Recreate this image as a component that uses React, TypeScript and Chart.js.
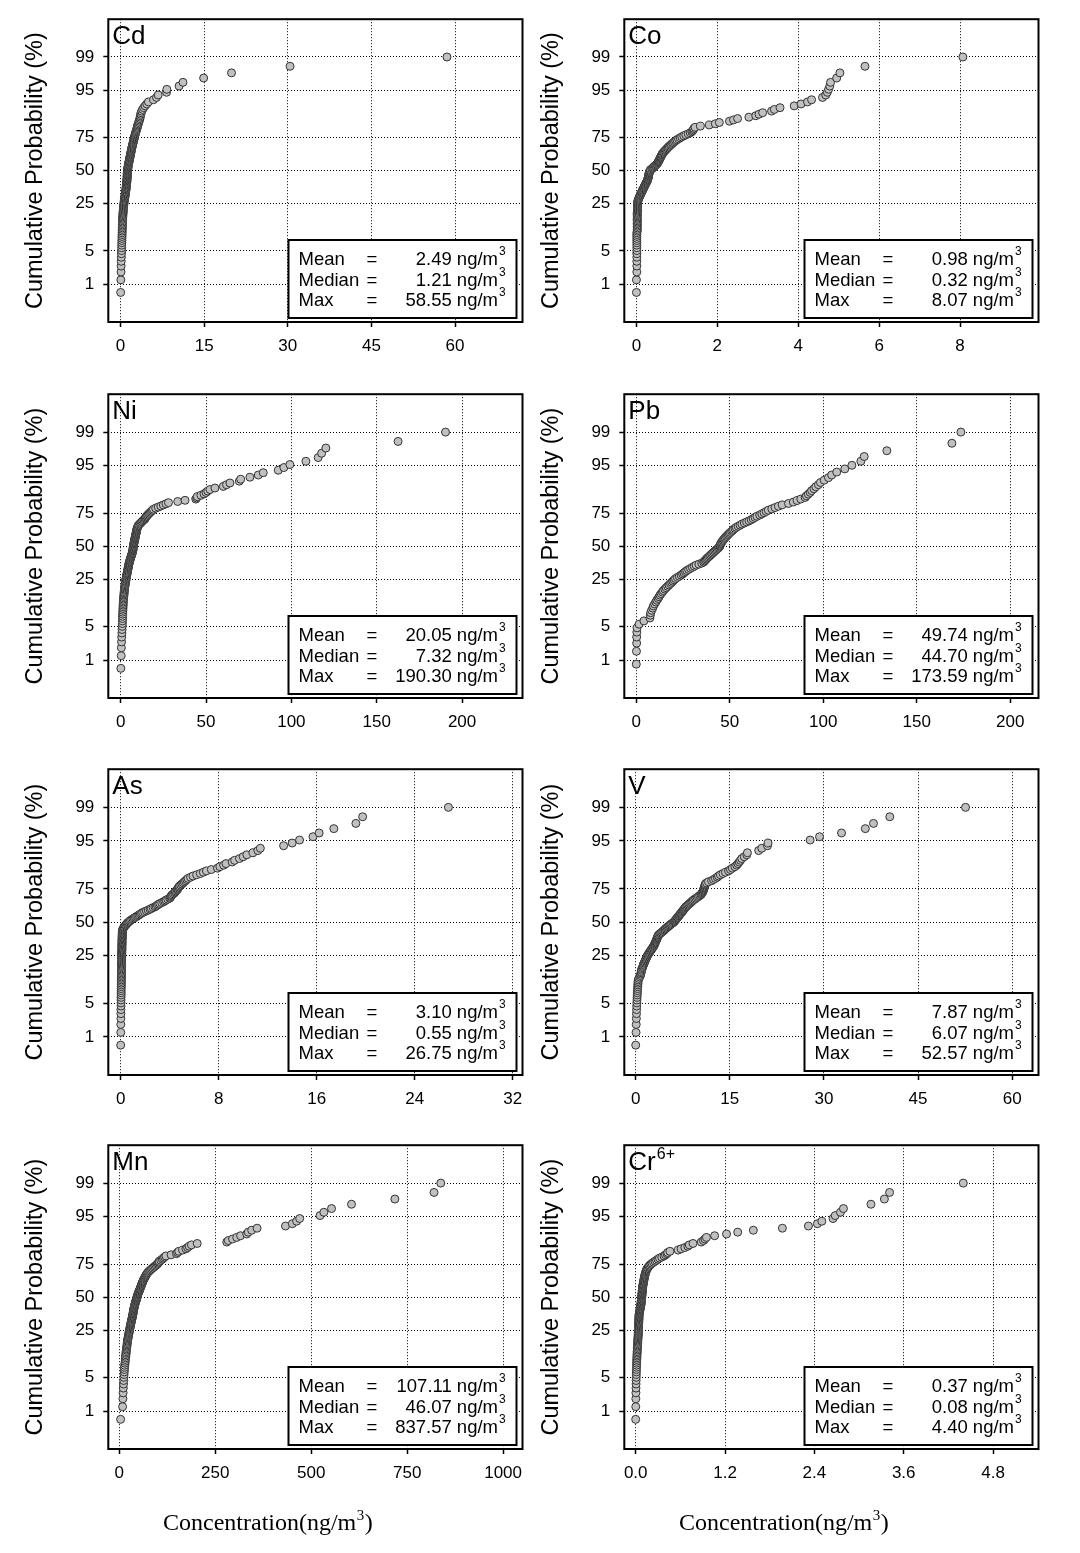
import React, { useEffect, useRef } from "react";
import { Chart, registerables } from "chart.js";

Chart.register(...registerables);

// ---------- axis / label text ----------
const PROB_TICKS = [1, 5, 25, 50, 75, 95, 99];
const PROB_TICK_LABELS = ["1", "5", "25", "50", "75", "95", "99"];
const Y_TITLE = "Cumulative Probability (%)";
const X_TITLE_MAIN = "Concentration(ng/m";
const X_TITLE_SUP = "3";
const X_TITLE_END = ")";
const STAT_NAMES = ["Mean", "Median", "Max"];
const UNIT = "ng/m";
const UNIT_SUP = "3";

// plotting-position range of the probability axis (lowest / highest point)
const P_LOW_A = 0.0063;
const P_LOW_PB = 0.008;
const P_HIGH = 0.99;

// ---------- data: sorted concentrations (ng/m3) ----------
const CD_VALUES = [
  0.02, 0.05, 0.08, 0.10, 0.12, 0.14, 0.16, 0.18,
  0.20, 0.21, 0.22, 0.24, 0.25, 0.26, 0.27, 0.28,
  0.29, 0.30, 0.31, 0.32, 0.33, 0.34, 0.35, 0.36,
  0.37, 0.38, 0.40, 0.41, 0.42, 0.44, 0.45, 0.47,
  0.48, 0.50, 0.52, 0.54, 0.56, 0.58, 0.60, 0.62,
  0.64, 0.66, 0.68, 0.70, 0.73, 0.76, 0.79, 0.82,
  0.85, 0.87, 0.89, 0.91, 0.93, 0.95, 0.97, 0.99,
  1.00, 1.02, 1.03, 1.05, 1.07, 1.08, 1.10, 1.12,
  1.13, 1.14, 1.15, 1.16, 1.17, 1.18, 1.19, 1.20,
  1.20, 1.21, 1.21, 1.21, 1.22, 1.24, 1.26, 1.28,
  1.29, 1.31, 1.33, 1.35, 1.37, 1.40, 1.43, 1.45,
  1.48, 1.51, 1.54, 1.57, 1.60, 1.63, 1.66, 1.69,
  1.72, 1.75, 1.78, 1.81, 1.84, 1.87, 1.90, 1.93,
  1.96, 1.99, 2.02, 2.06, 2.10, 2.14, 2.18, 2.22,
  2.26, 2.30, 2.34, 2.38, 2.42, 2.46, 2.50, 2.55,
  2.60, 2.65, 2.70, 2.76, 2.82, 2.88, 2.94, 3.00,
  3.06, 3.12, 3.18, 3.25, 3.32, 3.40, 3.48, 3.52,
  3.55, 3.62, 3.70, 3.80, 3.95, 4.15, 4.40, 4.70,
  5.0, 5.9, 6.45, 6.75,
  8.25, 8.3, 10.5, 11.2, 14.9, 19.9, 30.4, 58.55,
];

const CO_VALUES = [
  0.00, 0.00, 0.01, 0.01, 0.01, 0.01, 0.01, 0.01,
  0.01, 0.01, 0.01, 0.01, 0.01, 0.01, 0.01, 0.01,
  0.02, 0.02, 0.02, 0.02, 0.02, 0.02, 0.02, 0.02,
  0.02, 0.02, 0.02, 0.02, 0.02, 0.02, 0.02, 0.03,
  0.03, 0.03, 0.03, 0.03, 0.03, 0.03, 0.03, 0.03,
  0.03, 0.04, 0.04, 0.05, 0.06, 0.07, 0.08, 0.09,
  0.10, 0.11, 0.12, 0.13, 0.14, 0.15, 0.16, 0.17,
  0.18, 0.19, 0.20, 0.21, 0.22, 0.23, 0.24, 0.25,
  0.26, 0.27, 0.28, 0.28, 0.29, 0.29, 0.30, 0.30,
  0.30, 0.31, 0.31, 0.32, 0.32, 0.33, 0.34, 0.35,
  0.38, 0.40, 0.42, 0.44, 0.46, 0.48, 0.50, 0.52,
  0.53, 0.54, 0.55, 0.56, 0.57, 0.58, 0.59, 0.60,
  0.61, 0.62, 0.63, 0.64, 0.66, 0.67, 0.69, 0.71,
  0.73, 0.75, 0.77, 0.79, 0.81, 0.84, 0.86, 0.89,
  0.91, 0.94, 0.97, 1.00, 1.04, 1.08, 1.12, 1.17,
  1.22, 1.28, 1.33, 1.37, 1.39, 1.41, 1.42, 1.45,
  1.58, 1.80, 1.95, 2.05, 2.30, 2.40, 2.50, 2.78,
  2.95, 3.03, 3.12, 3.34, 3.41, 3.55, 3.90, 4.07,
  4.23, 4.33, 4.60, 4.68,
  4.72, 4.75, 4.78, 4.80, 4.95, 5.03, 5.65, 8.07,
];

const NI_VALUES = [
  0.1, 0.3, 0.4, 0.5, 0.6, 0.7, 0.8, 0.9,
  1.0, 1.0, 1.1, 1.1, 1.2, 1.2, 1.3, 1.3,
  1.4, 1.4, 1.5, 1.5, 1.6, 1.6, 1.7, 1.8,
  1.9, 2.0, 2.0, 2.1, 2.2, 2.3, 2.3, 2.4,
  2.5, 2.6, 2.7, 2.8, 2.9, 3.0, 3.1, 3.2,
  3.3, 3.4, 3.5, 3.6, 3.7, 3.8, 3.9, 4.0,
  4.1, 4.2, 4.3, 4.4, 4.5, 4.6, 4.7, 4.8,
  4.9, 5.0, 5.2, 5.3, 5.4, 5.6, 5.7, 5.9,
  6.0, 6.2, 6.3, 6.5, 6.6, 6.8, 6.9, 7.0,
  7.1, 7.2, 7.2, 7.3, 7.3, 7.4, 7.5, 7.6,
  7.6, 7.7, 7.8, 7.9, 8.0, 8.1, 8.2, 8.3,
  8.4, 8.5, 8.6, 8.7, 8.8, 8.9, 9.0, 9.1,
  9.2, 9.3, 9.4, 9.5, 9.6, 9.8, 10.0, 10.2,
  10.5, 11.0, 11.5, 12.0, 12.5, 13.0, 13.6, 14.2,
  14.4, 14.8, 15.2, 15.7, 16.2, 16.8, 17.4, 18.0,
  18.6, 19.2, 20.5, 22.0, 23.5, 25.0, 26.5, 28.0,
  33.4, 37.7, 44.0, 44.5, 44.9, 47.0, 48.8, 50.0,
  51.0, 52.3, 55.2, 60.1, 62.0, 64.0, 69.5, 70.3,
  75.7, 80.6, 83.5, 92.3,
  95.6, 99.1, 108.5, 115.7, 117.7, 120.2, 162.5, 190.3,
];

const PB_VALUES = [
  0.0, 0.1, 0.2, 0.2, 0.3, 0.4, 1.5, 4.1,
  7.3, 7.5, 7.7, 8.2, 8.8, 9.2, 9.8, 10.5, 11.0, 11.7, 12.2, 12.7,
  13.3, 14.0, 14.5, 15.3, 16.0, 16.8, 17.5, 18.3, 19.0, 19.6,
  20.3, 21.0, 22.0, 23.0, 24.0, 24.8, 25.5, 26.3, 27.0, 28.0,
  29.0, 30.0, 31.0, 32.0, 33.5, 35.0, 36.0, 36.5, 37.0, 37.5,
  38.0, 38.6, 39.2, 39.7, 40.3, 40.8, 41.4, 42.0, 42.6, 43.2,
  43.8, 44.3, 44.7, 44.8, 45.0, 45.3, 45.6, 46.0, 46.4, 46.8,
  47.2, 47.6, 48.2, 48.7, 49.2, 49.7, 50.3, 51.0, 51.5, 52.0,
  52.8, 53.5, 54.5, 55.5, 56.5, 57.8, 59.0, 60.3, 61.5, 62.5,
  63.5, 64.5, 66.0, 67.1, 68.3, 69.5, 70.6, 72.5, 74.2, 76.0,
  78.0, 81.4, 84.0, 86.0, 88.0, 90.3, 91.0, 92.0, 93.0, 93.8,
  95.0, 96.0, 97.4, 98.5, 100.5, 102.8, 104.5, 107.2, 111.5, 115.3,
  120.1, 121.9, 134.0, 168.8, 173.59,
];

const AS_VALUES = [
  0.00, 0.01, 0.01, 0.02, 0.02, 0.02, 0.03, 0.03,
  0.03, 0.03, 0.04, 0.04, 0.04, 0.04, 0.05, 0.05,
  0.05, 0.05, 0.05, 0.06, 0.06, 0.06, 0.06, 0.06,
  0.07, 0.07, 0.07, 0.07, 0.07, 0.07, 0.08, 0.08,
  0.08, 0.08, 0.08, 0.08, 0.08, 0.09, 0.09, 0.09,
  0.09, 0.09, 0.09, 0.09, 0.10, 0.10, 0.10, 0.10,
  0.10, 0.10, 0.10, 0.11, 0.11, 0.11, 0.11, 0.11,
  0.11, 0.12, 0.12, 0.12, 0.12, 0.12, 0.13, 0.13,
  0.13, 0.14, 0.14, 0.15, 0.16, 0.18, 0.22, 0.26,
  0.30, 0.35, 0.40, 0.46, 0.52, 0.58, 0.65, 0.72,
  0.80, 0.90, 1.00, 1.10, 1.20, 1.30, 1.40, 1.50,
  1.60, 1.70, 1.80, 1.95, 2.10, 2.25, 2.40, 2.50,
  2.65, 2.80, 2.90, 3.00, 3.10, 3.20, 3.35, 3.50,
  3.60, 3.70, 3.85, 4.00, 4.05, 4.10, 4.15, 4.20,
  4.30, 4.40, 4.45, 4.50, 4.60, 4.65, 4.70, 4.75,
  4.80, 4.90, 5.00, 5.10, 5.20, 5.30, 5.40, 5.50,
  5.70, 5.90, 6.20, 6.50, 6.75, 7.00, 7.40, 7.90,
  8.10, 8.40, 8.60, 9.10, 9.30, 9.70, 10.00, 10.30,
  10.80, 11.20, 11.40, 13.30,
  14.00, 14.60, 15.70, 16.20, 17.40, 19.20, 19.75, 26.75,
];

const V_VALUES = [
  0.0, 0.05, 0.08, 0.1, 0.12, 0.14, 0.16, 0.18,
  0.2, 0.22, 0.24, 0.26, 0.28, 0.3, 0.32, 0.34,
  0.36, 0.38, 0.4, 0.5, 0.65, 0.75, 0.8, 0.85,
  0.9, 0.95, 1.0, 1.07, 1.14, 1.21, 1.28, 1.35,
  1.42, 1.5, 1.57, 1.64, 1.71, 1.79, 1.86, 1.95,
  2.05, 2.15, 2.25, 2.35, 2.45, 2.55, 2.65, 2.75,
  2.85, 2.92, 2.98, 3.04, 3.1, 3.16, 3.22, 3.28,
  3.33, 3.38, 3.43, 3.48, 3.53, 3.58, 3.7, 3.85,
  4.0, 4.15, 4.3, 4.45, 4.6, 4.7, 4.85, 5.0,
  5.15, 5.3, 5.45, 5.6, 5.75, 5.95, 6.1, 6.2,
  6.3, 6.4, 6.5, 6.6, 6.7, 6.8, 6.9, 7.0,
  7.1, 7.2, 7.3, 7.4, 7.5, 7.6, 7.7, 7.8,
  7.9, 8.0, 8.15, 8.3, 8.45, 8.6, 8.75, 8.9,
  9.05, 9.2, 9.4, 9.6, 9.8, 10.0, 10.2, 10.4,
  10.5, 10.6, 10.7, 10.75, 10.8, 10.85, 10.9, 10.95,
  11.0, 11.05, 11.1, 11.3, 11.6, 12.1, 12.4, 12.7,
  13.0, 13.2, 13.5, 13.9, 14.3, 14.8, 15.1, 15.4,
  15.8, 16.1, 16.3, 16.5, 16.7, 16.9, 17.3, 17.7,
  17.8, 19.6, 20.1, 21.0,
  21.1, 27.8, 29.3, 32.8, 36.6, 37.9, 40.5, 52.57,
];

const MN_VALUES = [
  3.5, 8.7, 9.5, 10.0, 10.5, 11.0, 11.5, 12.0,
  12.5, 13.0, 13.5, 14.0, 14.5, 15.0, 15.5, 16.0,
  16.5, 17.0, 17.4, 17.8, 18.2, 18.6, 19.0, 19.4,
  19.8, 20.2, 20.6, 21.0, 21.5, 22.0, 22.5, 23.0,
  23.5, 24.0, 24.5, 25.0, 25.5, 26.0, 26.5, 27.0,
  27.5, 28.0, 28.5, 29.0, 29.5, 30.0, 30.5, 31.0,
  31.5, 32.0, 32.5, 33.0, 33.5, 34.0, 34.5, 35.0,
  35.5, 35.8, 36.1, 36.4, 36.8, 37.2, 37.6, 38.0,
  38.5, 39.0, 39.5, 40.0, 40.5, 41.0, 41.5, 42.0,
  42.5, 43.5, 44.5, 45.2, 45.8, 46.0, 46.1, 46.8,
  47.5, 48.2, 49.0, 49.8, 50.6, 51.4, 52.2, 53.0,
  53.8, 54.6, 55.4, 56.2, 57.0, 57.8, 58.6, 59.4,
  60.2, 61.0, 61.8, 62.6, 63.8, 65.0, 66.2, 67.4,
  68.6, 69.8, 71.0, 72.5, 74.5, 76.5, 79.0, 81.5,
  84, 87, 90, 93, 96, 99, 101, 103,
  104, 108, 112, 115, 118, 121.5, 135, 149,
  152, 155, 165, 173.6, 178, 182, 188, 203,
  280, 284, 295, 306, 316, 332, 336, 345,
  359, 433, 451, 462,
  470, 523, 533, 553, 605, 718, 820, 837.57,
];

const CR_VALUES = [
  0.000, 0.001, 0.002, 0.003, 0.004, 0.005, 0.006, 0.007,
  0.008, 0.009, 0.010, 0.011, 0.012, 0.013, 0.014, 0.015,
  0.016, 0.017, 0.018, 0.019, 0.020, 0.021, 0.022, 0.023,
  0.024, 0.025, 0.026, 0.027, 0.028, 0.029, 0.030, 0.031,
  0.032, 0.033, 0.034, 0.035, 0.035, 0.036, 0.036, 0.037,
  0.038, 0.038, 0.039, 0.039, 0.040, 0.040, 0.041, 0.041,
  0.042, 0.042, 0.043, 0.043, 0.044, 0.044, 0.045, 0.045,
  0.046, 0.048, 0.050, 0.052, 0.054, 0.056, 0.058, 0.060,
  0.062, 0.064, 0.066, 0.068, 0.070, 0.072, 0.073, 0.074,
  0.075, 0.076, 0.077, 0.078, 0.079, 0.080, 0.081, 0.082,
  0.083, 0.084, 0.085, 0.086, 0.087, 0.088, 0.089, 0.090,
  0.091, 0.092, 0.093, 0.094, 0.096, 0.098, 0.100, 0.102,
  0.104, 0.106, 0.108, 0.110, 0.112, 0.114, 0.116, 0.118,
  0.121, 0.124, 0.127, 0.130, 0.134, 0.138, 0.142, 0.146,
  0.150, 0.160, 0.170, 0.180, 0.190, 0.205, 0.22, 0.24,
  0.26, 0.28, 0.30, 0.32, 0.35, 0.38, 0.40, 0.42,
  0.43, 0.46, 0.57, 0.61, 0.66, 0.70, 0.72, 0.77,
  0.88, 0.91, 0.93, 0.95, 1.06, 1.22, 1.37, 1.58,
  1.97, 2.32, 2.44, 2.50,
  2.65, 2.68, 2.75, 2.79, 3.16, 3.34, 3.41, 4.40,
];

// summary statistics shown in each box (Mean, Median, Max)
const CD_STATS = ["2.49", "1.21", "58.55"];
const CO_STATS = ["0.98", "0.32", "8.07"];
const NI_STATS = ["20.05", "7.32", "190.30"];
const PB_STATS = ["49.74", "44.70", "173.59"];
const AS_STATS = ["3.10", "0.55", "26.75"];
const V_STATS = ["7.87", "6.07", "52.57"];
const MN_STATS = ["107.11", "46.07", "837.57"];
const CR_STATS = ["0.37", "0.08", "4.40"];

// x-axis ticks
const CD_XTICKS = [0, 15, 30, 45, 60];
const CO_XTICKS = [0, 2, 4, 6, 8];
const NI_XTICKS = [0, 50, 100, 150, 200];
const PB_XTICKS = [0, 50, 100, 150, 200];
const AS_XTICKS = [0, 8, 16, 24, 32];
const V_XTICKS = [0, 15, 30, 45, 60];
const MN_XTICKS = [0, 250, 500, 750, 1000];
const CR_XTICKS = [0, 1.2, 2.4, 3.6, 4.8];
const CR_XTICK_LABELS = ["0.0", "1.2", "2.4", "3.6", "4.8"];

// ---------- helpers ----------
function probit(p: number): number {
  const a = [-3.969683028665376e1, 2.209460984245205e2, -2.759285104469687e2, 1.38357751867269e2, -3.066479806614716e1, 2.506628277459239];
  const b = [-5.447609879822406e1, 1.615858368580409e2, -1.556989798598866e2, 6.680131188771972e1, -1.328068155288572e1];
  const c = [-7.784894002430293e-3, -3.223964580411365e-1, -2.400758277161838, -2.549671875516410, 4.374664141464968, 2.938163982698783];
  const d = [7.784695709041462e-3, 3.224671290700398e-1, 2.445134137142996, 3.754408661907416];
  const plow = 0.02425;
  if (p < plow) {
    const q = Math.sqrt(-2 * Math.log(p));
    return (((((c[0] * q + c[1]) * q + c[2]) * q + c[3]) * q + c[4]) * q + c[5]) / ((((d[0] * q + d[1]) * q + d[2]) * q + d[3]) * q + 1);
  }
  if (p <= 1 - plow) {
    const q = p - 0.5;
    const r = q * q;
    return ((((((a[0] * r + a[1]) * r + a[2]) * r + a[3]) * r + a[4]) * r + a[5]) * q) / (((((b[0] * r + b[1]) * r + b[2]) * r + b[3]) * r + b[4]) * r + 1);
  }
  const q = Math.sqrt(-2 * Math.log(1 - p));
  return -(((((c[0] * q + c[1]) * q + c[2]) * q + c[3]) * q + c[4]) * q + c[5]) / ((((d[0] * q + d[1]) * q + d[2]) * q + d[3]) * q + 1);
}

// probability-plot points: rank -> plotting position -> probit
function toPoints(values: number[], pLow: number) {
  const n = values.length;
  return values.map((x, i) => ({ x, y: probit(pLow + (i * (P_HIGH - pLow)) / (n - 1)) }));
}

const SANS = "'Liberation Sans', Arial, Helvetica, sans-serif";
const SERIF = "'Liberation Serif', 'Times New Roman', serif";

type PanelCfg = {
  label: string;
  labelSup?: string;
  values: number[];
  pLow: number;
  stats: string[];
  xMin: number;
  xMax: number;
  xTicks: number[];
  xTickLabels?: string[];
  col: number;
  row: number;
};

const PANELS: PanelCfg[] = [
  { label: "Cd", values: CD_VALUES, pLow: P_LOW_A, stats: CD_STATS, xMin: -2.2, xMax: 72.1, xTicks: CD_XTICKS, col: 0, row: 0 },
  { label: "Co", values: CO_VALUES, pLow: P_LOW_A, stats: CO_STATS, xMin: -0.3, xMax: 9.94, xTicks: CO_XTICKS, col: 1, row: 0 },
  { label: "Ni", values: NI_VALUES, pLow: P_LOW_A, stats: NI_STATS, xMin: -7.26, xMax: 235.4, xTicks: NI_XTICKS, col: 0, row: 1 },
  { label: "Pb", values: PB_VALUES, pLow: P_LOW_PB, stats: PB_STATS, xMin: -6.4, xMax: 215.1, xTicks: PB_XTICKS, col: 1, row: 1 },
  { label: "As", values: AS_VALUES, pLow: P_LOW_A, stats: AS_STATS, xMin: -1.01, xMax: 32.8, xTicks: AS_XTICKS, col: 0, row: 2 },
  { label: "V", values: V_VALUES, pLow: P_LOW_A, stats: V_STATS, xMin: -1.82, xMax: 64.2, xTicks: V_XTICKS, col: 1, row: 2 },
  { label: "Mn", values: MN_VALUES, pLow: P_LOW_A, stats: MN_STATS, xMin: -28.6, xMax: 1050.5, xTicks: MN_XTICKS, col: 0, row: 3 },
  { label: "Cr", labelSup: "6+", values: CR_VALUES, pLow: P_LOW_A, stats: CR_STATS, xMin: -0.153, xMax: 5.41, xTicks: CR_XTICKS, xTickLabels: CR_XTICK_LABELS, col: 1, row: 3 },
];

// layout (page pixels)
const CANVAS_W = 540;
const COL_LEFT = [0, 516];
const ROW_TOP = [0, 375, 750, 1126];
const ROW_PLOT_H = [303, 304, 306, 304];
const PAD_TOP = 19;
const Y_AXIS_W = 108.3;
const PAD_RIGHT = 17.5;

const decorPlugin = {
  id: "decor",
  afterDraw(chart: any, _args: any, opts: any) {
    const { ctx, chartArea: a } = chart;
    ctx.save();
    // frame
    ctx.strokeStyle = "#000";
    ctx.lineWidth = 2;
    ctx.strokeRect(a.left, a.top, a.right - a.left, a.bottom - a.top);

    // panel label
    ctx.fillStyle = "#000";
    ctx.textAlign = "left";
    ctx.textBaseline = "alphabetic";
    ctx.font = `26px ${SANS}`;
    ctx.fillText(opts.label, a.left + 4, a.top + 25);
    if (opts.labelSup) {
      const w = ctx.measureText(opts.label).width;
      ctx.font = `16px ${SANS}`;
      ctx.fillText(opts.labelSup, a.left + 5 + w, a.top + 14);
    }

    // stats box
    const bw = 228;
    const bh = 78;
    const bx = a.right - 6 - bw;
    const by = a.bottom - 4 - bh;
    ctx.fillStyle = "#fff";
    ctx.fillRect(bx, by, bw, bh);
    ctx.strokeStyle = "#000";
    ctx.lineWidth = 2;
    ctx.strokeRect(bx, by, bw, bh);
    ctx.fillStyle = "#000";
    const stats: string[] = opts.stats;
    for (let i = 0; i < 3; i++) {
      const base = by + 24.7 + i * 20.8;
      ctx.font = `18.5px ${SANS}`;
      ctx.textAlign = "left";
      ctx.fillText(STAT_NAMES[i], bx + 10, base);
      ctx.fillText("=", bx + 78, base);
      ctx.textAlign = "right";
      ctx.fillText(`${stats[i]} ${UNIT}`, bx + 209.5, base);
      ctx.textAlign = "left";
      ctx.font = `12px ${SANS}`;
      ctx.fillText(UNIT_SUP, bx + 210.5, base - 10);
    }

    // bottom title
    if (opts.xTitle) {
      const x0 = a.left + 54.7;
      const base = a.bottom + 81;
      ctx.textAlign = "left";
      ctx.font = `24px ${SERIF}`;
      ctx.fillText(X_TITLE_MAIN, x0, base);
      const w1 = ctx.measureText(X_TITLE_MAIN).width;
      ctx.font = `15px ${SERIF}`;
      ctx.fillText(X_TITLE_SUP, x0 + w1 + 0.5, base - 10);
      const w2 = ctx.measureText(X_TITLE_SUP).width;
      ctx.font = `24px ${SERIF}`;
      ctx.fillText(X_TITLE_END, x0 + w1 + w2 + 1, base);
    }
    ctx.restore();
  },
};

function Panel({ cfg }: { cfg: PanelCfg }) {
  const ref = useRef<HTMLCanvasElement | null>(null);
  const isBottom = cfg.row === 3;
  const canvasH = isBottom ? 1553 - ROW_TOP[3] : 375;
  const plotH = ROW_PLOT_H[cfg.row];
  const xAxisH = isBottom ? 53 : canvasH - PAD_TOP - plotH;
  const padBottom = canvasH - PAD_TOP - plotH - xAxisH;

  useEffect(() => {
    const canvas = ref.current;
    if (!canvas) return;
    const yTickVals = PROB_TICKS.map((p) => probit(p / 100));
    const chart = new Chart(canvas, {
      type: "scatter",
      data: {
        datasets: [
          {
            data: toPoints(cfg.values, cfg.pLow),
            pointRadius: 4,
            pointBackgroundColor: "#c0c0c0",
            pointBorderColor: "#333333",
            pointBorderWidth: 1,
            pointHoverRadius: 4,
          },
        ],
      },
      options: {
        animation: false,
        responsive: false,
        maintainAspectRatio: false,
        events: [],
        layout: { padding: { left: 0, top: PAD_TOP, right: PAD_RIGHT, bottom: padBottom } },
        plugins: {
          legend: { display: false },
          tooltip: { enabled: false },
          decor: { label: cfg.label, labelSup: cfg.labelSup, stats: cfg.stats, xTitle: isBottom },
        } as any,
        scales: {
          x: {
            type: "linear",
            position: "bottom",
            min: cfg.xMin,
            max: cfg.xMax,
            afterBuildTicks: (s: any) => {
              s.ticks = cfg.xTicks.map((v) => ({ value: v }));
            },
            afterFit: (s: any) => {
              s.height = xAxisH;
            },
            ticks: {
              autoSkip: false,
              maxRotation: 0,
              padding: 9,
              color: "#000",
              font: { family: SANS, size: 17 },
              callback: (_v: any, i: number) => (cfg.xTickLabels ? cfg.xTickLabels[i] : String(cfg.xTicks[i])),
            },
            grid: { color: "#000", lineWidth: 1, tickLength: 5, tickColor: "#000", tickWidth: 1.5 },
            border: { display: false, dash: [1, 2] },
          },
          y: {
            type: "linear",
            min: -3.1,
            max: 3.1,
            afterBuildTicks: (s: any) => {
              s.ticks = yTickVals.map((v) => ({ value: v }));
            },
            afterFit: (s: any) => {
              s.width = Y_AXIS_W;
            },
            ticks: {
              autoSkip: false,
              padding: 9,
              color: "#000",
              font: { family: SANS, size: 17 },
              callback: (_v: any, i: number) => PROB_TICK_LABELS[i],
            },
            title: {
              display: true,
              text: Y_TITLE,
              color: "#000",
              font: { family: SANS, size: 23.5 },
              padding: { top: 21, bottom: 0 },
            },
            grid: { color: "#000", lineWidth: 1, tickLength: 5, tickColor: "#000", tickWidth: 1.5 },
            border: { display: false, dash: [1, 2] },
          },
        },
      } as any,
      plugins: [decorPlugin as any],
    });
    return () => chart.destroy();
  }, []);

  return (
    <canvas
      ref={ref}
      width={CANVAS_W}
      height={canvasH}
      style={{
        position: "absolute",
        left: COL_LEFT[cfg.col],
        top: ROW_TOP[cfg.row],
        width: CANVAS_W,
        height: canvasH,
      }}
    />
  );
}

export default function App() {
  return (
    <div style={{ position: "absolute", left: 0, top: 0, width: 1080, height: 1553, background: "#fff" }}>
      {PANELS.map((p) => (
        <Panel key={p.label} cfg={p} />
      ))}
    </div>
  );
}
